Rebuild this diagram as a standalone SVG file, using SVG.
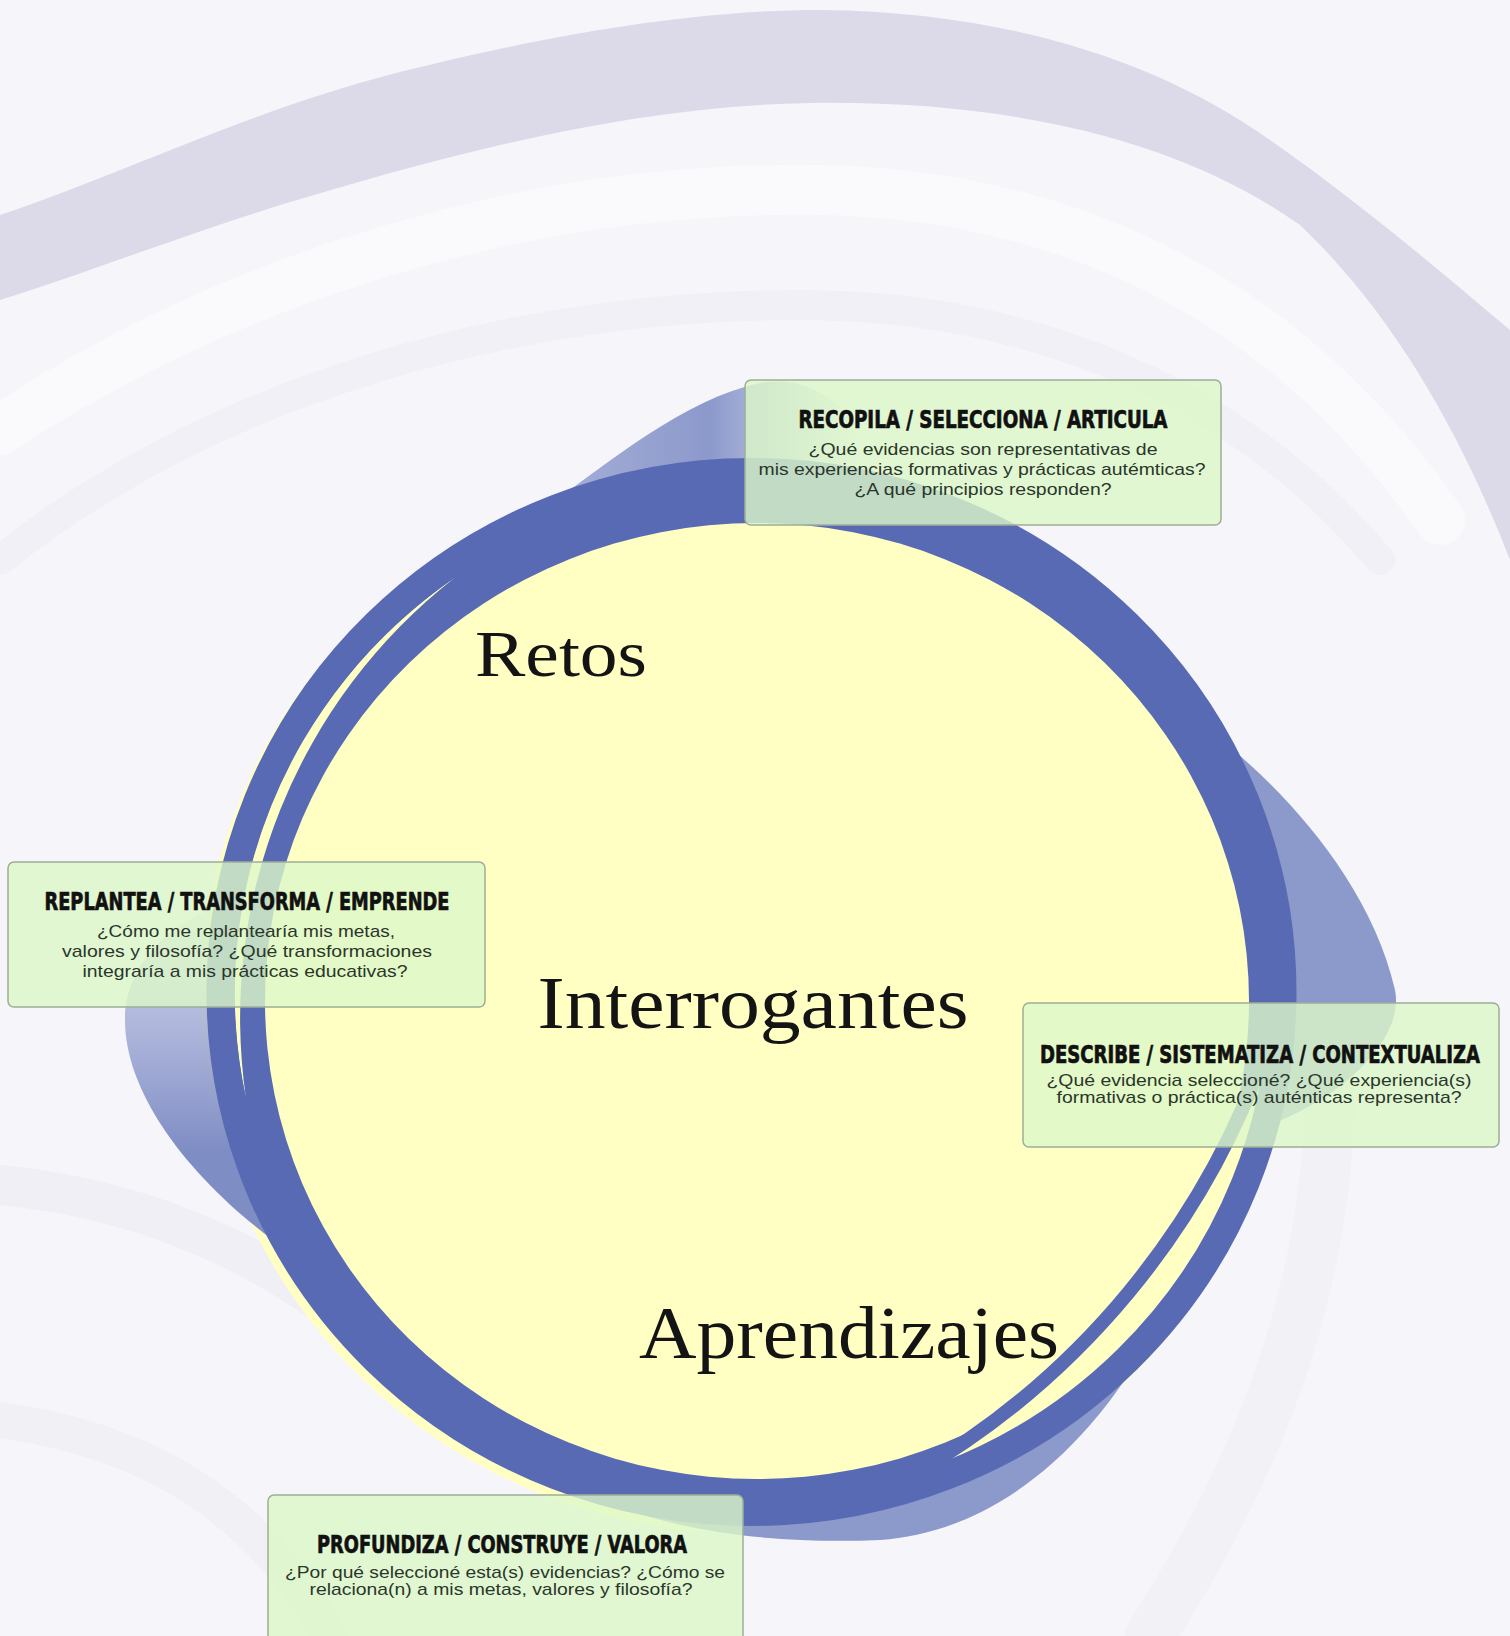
<svg xmlns="http://www.w3.org/2000/svg" width="1510" height="1636" viewBox="0 0 1510 1636">
  <defs>
    <style>
      .bg { fill: #f5f5fa; }
      .lav { fill: #dcd9e8; }
      .faint { fill: none; stroke-linecap: round; }
      .cres { fill: #8c99cb; }
      .yel { fill: #ffffc4; }
      .ring { fill: none; stroke: #586ab4; stroke-width: 28; }
      .blue { fill: #586ab4; }
      .box { fill: #dcf8c8; fill-opacity: 0.8; stroke: #9fad98; stroke-width: 1.5; }
      .t { font-family: "DejaVu Sans Condensed", "DejaVu Sans", sans-serif; font-weight: bold; font-size: 18px; fill: #111; stroke: #111; stroke-width: 0.5; text-anchor: middle; }
      .b { font-family: "Liberation Sans", Arial, sans-serif; font-size: 17px; fill: #2b362b; text-anchor: middle; }
      .big { font-family: "Liberation Serif", "Times New Roman", serif; fill: #141414; text-anchor: middle; }
    </style>
    <linearGradient id="gl" x1="0" y1="900" x2="0" y2="1150" gradientUnits="userSpaceOnUse">
      <stop offset="0" stop-color="#8c99cb" stop-opacity="0.1"/>
      <stop offset="0.45" stop-color="#a7b0d8" stop-opacity="0.85"/>
      <stop offset="1" stop-color="#7f8dc5" stop-opacity="1"/>
    </linearGradient>
    <linearGradient id="gt" x1="527" y1="0" x2="860" y2="0" gradientUnits="userSpaceOnUse">
      <stop offset="0" stop-color="#a9b2da"/>
      <stop offset="0.55" stop-color="#8c99cb"/>
      <stop offset="0.75" stop-color="#8c99cb" stop-opacity="0.6"/>
      <stop offset="1" stop-color="#8c99cb" stop-opacity="0"/>
    </linearGradient>
  </defs>

  <g id="background">
    <rect class="bg" x="0" y="0" width="1510" height="1636"/>
    <path class="lav" d="M0,215 C120,175 250,110 400,72 C560,32 700,10 820,10 C1010,12 1160,62 1270,140 C1370,210 1450,280 1510,330 L1510,560 C1460,430 1390,310 1300,225 C1180,140 1010,100 810,103 C620,106 430,160 280,205 C170,240 80,275 0,300 Z"/>
    <path class="faint" stroke="#fafafd" stroke-width="50" d="M0,430 C250,265 550,185 820,190 C1080,195 1290,305 1440,520"/>
    <path class="faint" stroke="#f0f0f6" stroke-width="30" d="M0,560 C220,385 520,305 800,305 C1050,305 1250,405 1380,560"/>
    <path class="faint" stroke="#efeff5" stroke-width="40" d="M0,1185 C150,1200 300,1260 420,1390"/>
    <path class="faint" stroke="#f0f0f5" stroke-width="36" d="M0,1420 C150,1440 260,1510 330,1636"/>
    <path class="faint" stroke="#f1f1f6" stroke-width="50" d="M1330,1080 C1330,1300 1250,1480 1150,1636"/>
  </g>

  <g id="yellow-fringe">
    <ellipse class="yel" cx="745.5" cy="999" rx="545" ry="534"/>
  </g>

  <g id="crescents">
    <path fill="url(#gl)" d="M228,903 C170,920 125,965 125,1020 C125,1100 200,1190 291,1253 A531 520 0 0 1 228,903 Z"/>
    <path class="cres" d="M1211,732 C1280,785 1370,880 1395,990 C1405,1040 1340,1100 1264,1127 A531 520 0 0 0 1211,732 Z"/>
    <path fill="url(#gt)" d="M527,521 C600,470 680,400 760,383 C820,372 870,420 889,490 A531 520 0 0 0 527,521 Z"/>
    <path class="cres" d="M570,1481 C640,1528 760,1545 880,1540 C980,1533 1080,1468 1158,1326 A531 520 0 0 1 570,1481 Z"/>
  </g>

  <g id="circle">
    <ellipse class="blue" cx="751.5" cy="992" rx="531" ry="520"/>
    <ellipse class="yel" cx="757" cy="1001" rx="492" ry="478"/>
    <path id="sliver" class="yel" d="M455,577.5 A519 508 0 0 0 245.8,1097.2 A558 558 0 0 1 455,577.5 Z"/>
    <path id="gap" class="yel" d="M1267.6,1045.1 A519 508 0 0 1 911.9,1475.2 A796 796 0 0 0 1267.6,1045.1 Z"/>
    <path id="thin" fill="none" stroke="#586ab4" stroke-width="14" d="M1267.6,1045.1 A796 796 0 0 1 911.9,1475.2"/>
    <ellipse class="ring" cx="751.5" cy="992" rx="531" ry="520"/>
  </g>

  <g id="labels">
    <text class="big" x="561" y="676" font-size="66" textLength="172" lengthAdjust="spacingAndGlyphs">Retos</text>
    <text class="big" x="753" y="1028" font-size="74" textLength="431" lengthAdjust="spacingAndGlyphs">Interrogantes</text>
    <text class="big" x="849" y="1358" font-size="75" textLength="420" lengthAdjust="spacingAndGlyphs">Aprendizajes</text>
  </g>

  <g id="node-recopila">
    <rect class="box" x="745" y="380" width="476" height="145" rx="6"/>
    <text class="t" transform="translate(983 428) scale(1 1.35)" textLength="369" lengthAdjust="spacingAndGlyphs">RECOPILA / SELECCIONA / ARTICULA</text>
    <text class="b" x="983" y="455" textLength="349" lengthAdjust="spacingAndGlyphs">¿Qué evidencias son representativas de</text>
    <text class="b" x="982" y="475" textLength="447" lengthAdjust="spacingAndGlyphs">mis experiencias formativas y prácticas autémticas?</text>
    <text class="b" x="983" y="495" textLength="257" lengthAdjust="spacingAndGlyphs">¿A qué principios responden?</text>
  </g>

  <g id="node-replantea">
    <rect class="box" x="8" y="862" width="477" height="145" rx="6"/>
    <text class="t" transform="translate(247 910) scale(1 1.35)" textLength="405" lengthAdjust="spacingAndGlyphs">REPLANTEA / TRANSFORMA / EMPRENDE</text>
    <text class="b" x="246" y="937" textLength="298" lengthAdjust="spacingAndGlyphs">¿Cómo me replantearía mis metas,</text>
    <text class="b" x="247" y="957" textLength="370" lengthAdjust="spacingAndGlyphs">valores y filosofía? ¿Qué transformaciones</text>
    <text class="b" x="245" y="977" textLength="325" lengthAdjust="spacingAndGlyphs">integraría a mis prácticas educativas?</text>
  </g>

  <g id="node-describe">
    <rect class="box" x="1023" y="1003" width="476" height="144" rx="6"/>
    <text class="t" transform="translate(1260 1063) scale(1 1.35)" textLength="440" lengthAdjust="spacingAndGlyphs">DESCRIBE / SISTEMATIZA / CONTEXTUALIZA</text>
    <text class="b" x="1259" y="1086" font-size="16" textLength="425" lengthAdjust="spacingAndGlyphs">¿Qué evidencia seleccioné? ¿Qué experiencia(s)</text>
    <text class="b" x="1259" y="1103" font-size="16" textLength="405" lengthAdjust="spacingAndGlyphs">formativas o práctica(s) auténticas representa?</text>
  </g>

  <g id="node-profundiza">
    <rect class="box" x="268" y="1495" width="475" height="150" rx="6"/>
    <text class="t" transform="translate(502 1553) scale(1 1.35)" textLength="370" lengthAdjust="spacingAndGlyphs">PROFUNDIZA / CONSTRUYE / VALORA</text>
    <text class="b" x="505" y="1578" font-size="16" textLength="440" lengthAdjust="spacingAndGlyphs">¿Por qué seleccioné esta(s) evidencias? ¿Cómo se</text>
    <text class="b" x="501" y="1595" font-size="16" textLength="383" lengthAdjust="spacingAndGlyphs">relaciona(n) a mis metas, valores y filosofía?</text>
  </g>

  <g id="connectors"></g>
</svg>
